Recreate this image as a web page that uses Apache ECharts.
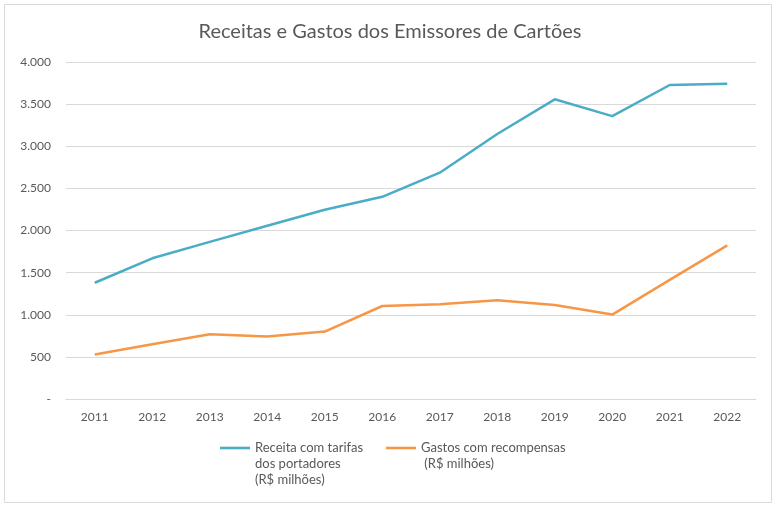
<!DOCTYPE html>
<html><head><meta charset="utf-8">
<script src="https://cdn.jsdelivr.net/npm/echarts@6/dist/echarts.min.js"></script>
<style>html,body{margin:0;padding:0;background:#fff}#c{width:780px;height:508px}</style>
</head><body><div id="c"></div>
<script>
const years = ['2011','2012','2013','2014','2015','2016','2017','2018','2019','2020','2021','2022'];
const receita = [1380, 1670, 1865, 2057, 2247, 2400, 2686, 3145, 3557, 3358, 3727, 3742];
const gastos = [527, 649, 768, 741, 800, 1104, 1125, 1171, 1116, 1002, 1414, 1824];
const yTicks = [0, 500, 1000, 1500, 2000, 2500, 3000, 3500, 4000];
const nameReceita = 'Receita com tarifas dos portadores (R$ milhões)';
const nameGastos = 'Gastos com recompensas (R$ milhões)';
const legendReceita = 'Receita com tarifas\ndos portadores\n(R$ milhões)';
const legendGastos = 'Gastos com recompensas\n (R$ milhões)';

const font = 'Lato, "Liberation Sans", sans-serif';
const gray = '#595959';
const lineIcon = 'path://M0,0 L30,0 L30,2.6 L0,2.6 Z';
function fmt(v){ if (v === 0) return '-'; return String(v).replace(/\B(?=(\d{3})+(?!\d))/g, '.'); }

const chart = echarts.init(document.getElementById('c'));
chart.setOption({
  animation: false,
  backgroundColor: '#fff',
  title: { text: 'Receitas e Gastos dos Emissores de Cartões', left: 'center', top: 17,
    textStyle: { fontFamily: font, fontSize: 20, fontWeight: 'normal', color: gray } },
  graphic: [{ type: 'rect', shape: { x: 4.5, y: 4.5, width: 767, height: 498 },
    style: { fill: 'none', stroke: '#d9d9d9', lineWidth: 1 }, silent: true }],
  grid: { left: 66, right: 24, top: 62, bottom: 109 },
  legend: [
    { left: 220, top: 408, padding: 0, itemWidth: 30, itemHeight: 14, selectedMode: false,
      data: [{ name: nameReceita, icon: lineIcon }],
      formatter: function(){ return '\n\n' + legendReceita; },
      textStyle: { fontFamily: font, fontSize: 13, color: gray, lineHeight: 16 } },
    { left: 386, top: 424, padding: 0, itemWidth: 30, itemHeight: 14, selectedMode: false,
      data: [{ name: nameGastos, icon: lineIcon }],
      formatter: function(){ return '\n' + legendGastos; },
      textStyle: { fontFamily: font, fontSize: 13, color: gray, lineHeight: 16 } }
  ],
  xAxis: { type: 'category', data: years, boundaryGap: true,
    axisLine: { lineStyle: { color: '#d9d9d9', width: 1 } }, axisTick: { show: false },
    axisLabel: { color: gray, fontFamily: font, fontSize: 12, margin: 12 } },
  yAxis: { type: 'value', min: yTicks[0], max: yTicks[yTicks.length - 1], interval: 500,
    axisLine: { show: false }, axisTick: { show: false },
    splitLine: { lineStyle: { color: '#d9d9d9', width: 1 } },
    axisLabel: { color: gray, fontFamily: font, fontSize: 12, margin: 15, formatter: fmt } },
  series: [
    { name: nameReceita, type: 'line', data: receita, showSymbol: false, symbol: 'none',
      lineStyle: { color: '#4BACC6', width: 2.5 }, itemStyle: { color: '#4BACC6' } },
    { name: nameGastos, type: 'line', data: gastos, showSymbol: false, symbol: 'none',
      lineStyle: { color: '#F79646', width: 2.5 }, itemStyle: { color: '#F79646' } }
  ]
});
</script></body></html>
